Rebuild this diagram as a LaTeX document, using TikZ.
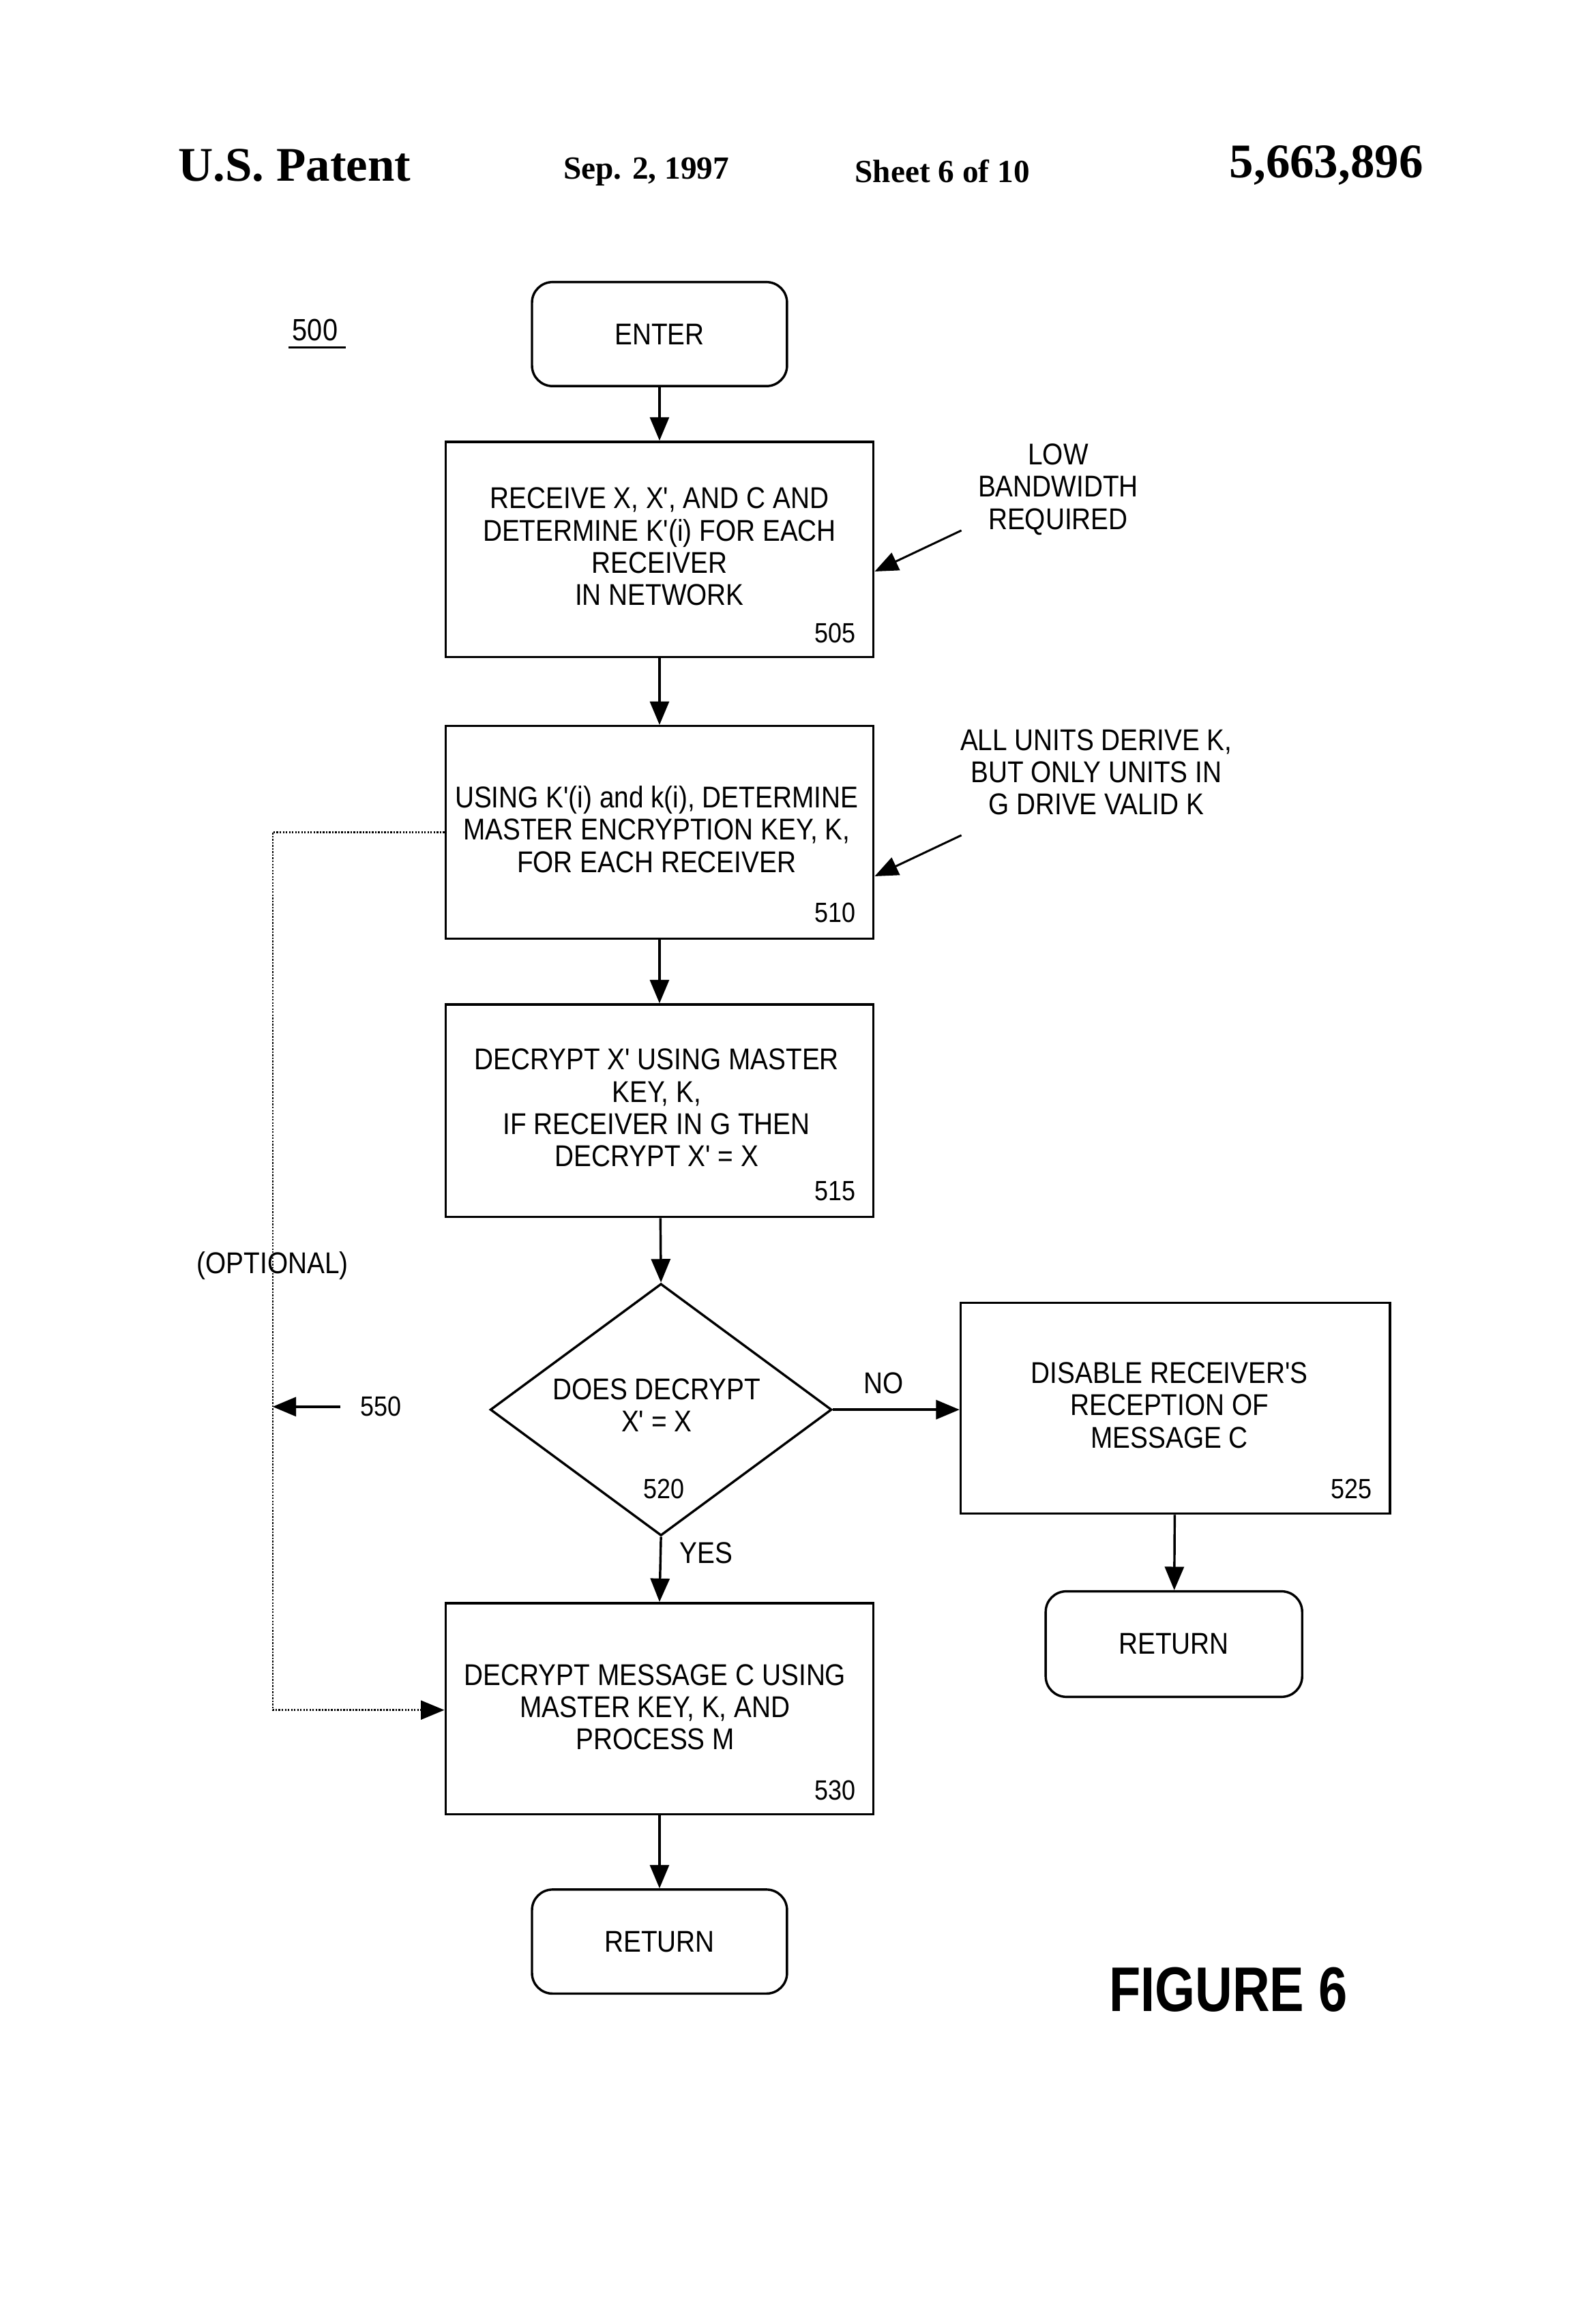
\documentclass[tikz,border=0pt]{standalone}
\usepackage{fontspec}
\setmainfont{Liberation Sans}[FakeStretch=0.88,Ligatures=TeXOff]
\newfontfamily\serifhd{Liberation Serif}
\newfontfamily\figfont{Liberation Sans}[FakeStretch=0.82]
\usetikzlibrary{arrows.meta,shapes.geometric}
\begin{document}
\begin{tikzpicture}[x=1pt,y=-1pt,
  txt/.style={font=\fontsize{20.5}{22}\selectfont,align=center,inner sep=0},
  boxs/.style={draw,line width=1.6pt,minimum width=292pt,minimum height=145pt,inner sep=0},
  term/.style={draw,line width=1.6pt,rounded corners=14pt,minimum width=174pt,minimum height=71pt,font=\fontsize{20.5}{22}\selectfont},
  arr/.style={line width=1.6pt,-{Triangle[length=16pt,width=13pt]}},
  num/.style={font=\fontsize{19}{20}\selectfont,inner sep=0}]
\useasboundingbox (0,0) rectangle (1080,1586);
% header
\node[font=\serifhd\bfseries\fontsize{33}{34}\selectfont] (h1) at (201,113) {U.S. Patent};
\node[font=\serifhd\bfseries\fontsize{22}{24}\selectfont] (h2) at (441,117) {Sep. 2, 1997};
\node[font=\serifhd\bfseries\fontsize{22}{24}\selectfont] (h3) at (643,117) {Sheet 6 of 10};
\node[font=\serifhd\bfseries\fontsize{33}{34}\selectfont] (h4) at (905,113) {5,663,896};
\node[num,font=\fontsize{21}{22}\selectfont] (n500) at (215,225) {500};
\draw[line width=1.2pt] (197,237) -- (236,237);
% nodes
\node[term] (enter) at (450,228) {ENTER};
\node[boxs,minimum height=147pt] (b505) at (450,375) {};
\node[txt] at (450,373) {RECEIVE X, X', AND C AND\\DETERMINE K'(i) FOR EACH\\RECEIVER\\IN NETWORK};
\node[num] at (570,432) {505};
\node[boxs] (b510) at (450,568) {};
\node[txt] at (448,566) {USING K'(i) and k(i), DETERMINE\\MASTER ENCRYPTION KEY, K,\\FOR EACH RECEIVER};
\node[num] at (570,623) {510};
\node[boxs] (b515) at (450,758) {};
\node[txt] at (448,756) {DECRYPT X' USING MASTER\\KEY, K,\\IF RECEIVER IN G THEN\\DECRYPT X' = X};
\node[num] at (570,813) {515};
\node[draw,line width=1.6pt,diamond,minimum width=233pt,minimum height=172pt,inner sep=0] (d520) at (451,962) {};
\node[txt] at (448,959) {DOES DECRYPT\\X' = X};
\node[num] at (453,1016) {520};
\node[boxs,minimum width=293pt,minimum height=144pt] (b525) at (802,961) {};
\node[txt] at (798,959) {DISABLE RECEIVER'S\\RECEPTION OF\\MESSAGE C};
\node[num] at (922,1016) {525};
\node[term,minimum width=175pt,minimum height=72pt] (ret1) at (801,1122) {RETURN};
\node[boxs,minimum height=144pt] (b530) at (450,1166) {};
\node[txt] at (447,1165) {DECRYPT MESSAGE C USING\\MASTER KEY, K, AND\\PROCESS M};
\node[num] at (570,1222) {530};
\node[term] (ret2) at (450,1325) {RETURN};
% arrows
\draw[arr] (enter) -- (b505);
\draw[arr] (b505) -- (b510);
\draw[arr] (b510) -- (b515);
\draw[arr] (b515) -- (d520.north);
\draw[arr] (d520.east) -- (b525.west |- d520.east) node[txt,pos=0.4,above=10pt] {NO};
\draw[arr] (d520.south) -- (b530.north);
\node[txt] at (482,1060) {YES};
\draw[arr] (b525) -- (ret1);
\draw[arr] (b530) -- (ret2);
% annotations
\node[txt] (low) at (722,334) {LOW\\BANDWIDTH\\REQUIRED};
\coordinate (la) at (656,362);
\draw[arr,line width=1.4pt] (la) -- (b505.east |- 0,390);
\node[txt] (all) at (748,527) {ALL UNITS DERIVE K,\\BUT ONLY UNITS IN\\G DRIVE VALID K};
\coordinate (aa) at (656,570);
\draw[arr,line width=1.4pt] (aa) -- (b510.east |- 0,598);
% optional dotted path
\coordinate (c1) at (186,568);
\coordinate (c2) at (186,1167);
\draw[line width=1.1pt,densely dotted,-{Triangle[length=16pt,width=13pt]}] (b510.west) -- (c1) -- (c2) -- (b530.west |- c2);
\node[txt] (opt) at (186,864) {(OPTIONAL)};
\coordinate (c550) at (186,960);
\coordinate (s550) at (232,960);
\draw[arr] (s550) -- (c550);
\node[num] (n550) at (260,960) {550};
\node[font=\figfont\bfseries\fontsize{43}{44}\selectfont] (fig) at (838,1358) {FIGURE 6};
\end{tikzpicture}
\end{document}
